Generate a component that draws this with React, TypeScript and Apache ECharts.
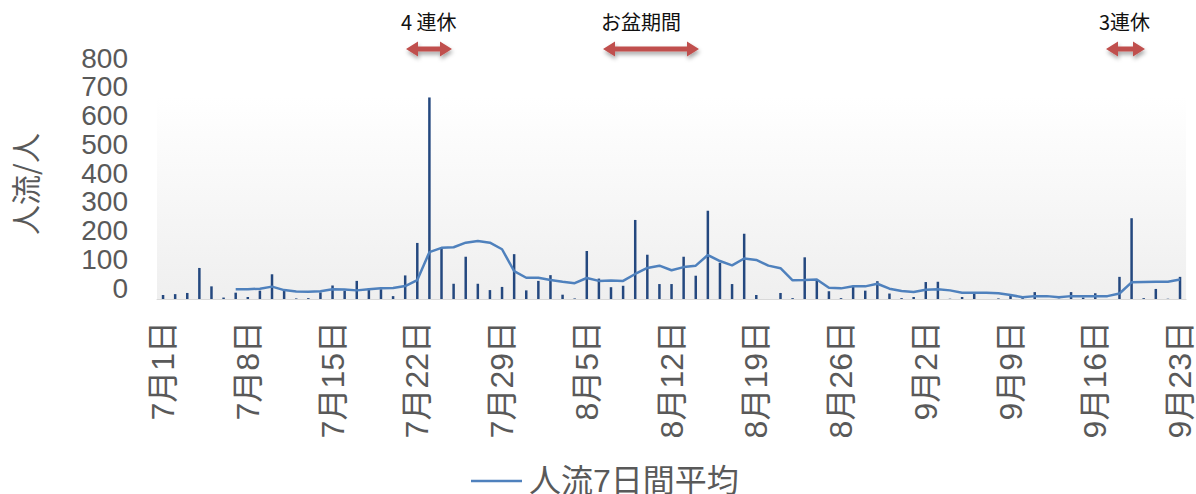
import React, { useEffect, useRef } from "react";
import * as echarts from "echarts";

const categories: string[] = [
  "7月1日","7月2日","7月3日","7月4日","7月5日","7月6日","7月7日","7月8日","7月9日","7月10日",
  "7月11日","7月12日","7月13日","7月14日","7月15日","7月16日","7月17日","7月18日","7月19日","7月20日",
  "7月21日","7月22日","7月23日","7月24日","7月25日","7月26日","7月27日","7月28日","7月29日","7月30日",
  "7月31日","8月1日","8月2日","8月3日","8月4日","8月5日","8月6日","8月7日","8月8日","8月9日",
  "8月10日","8月11日","8月12日","8月13日","8月14日","8月15日","8月16日","8月17日","8月18日","8月19日",
  "8月20日","8月21日","8月22日","8月23日","8月24日","8月25日","8月26日","8月27日","8月28日","8月29日",
  "8月30日","8月31日","9月1日","9月2日","9月3日","9月4日","9月5日","9月6日","9月7日","9月8日",
  "9月9日","9月10日","9月11日","9月12日","9月13日","9月14日","9月15日","9月16日","9月17日","9月18日",
  "9月19日","9月20日","9月21日","9月22日","9月23日",
];

// daily flow (人)
const dailyFlow: number[] = [
  14, 17, 21, 108, 44, 5, 22, 7, 29, 86,
  29, 2, 3, 23, 47, 29, 63, 36, 34, 10,
  82, 195, 701, 180, 53, 147, 53, 31, 42, 156,
  30, 63, 83, 15, 2, 167, 71, 41, 46, 275,
  154, 52, 52, 147, 81, 307, 126, 52, 227, 14,
  0, 21, 3, 145, 66, 27, 3, 45, 29, 62,
  19, 3, 7, 59, 60, 1, 7, 19, 0, 2,
  14, 3, 24, 0, 1, 24, 5, 20, 0, 77,
  281, 3, 35, 1, 77,
];

// 人流7日間平均 (starts on 7月7日)
const avg7: (number | null)[] = [
  null, null, null, null, null, null, 34, 34, 36, 43,
  31, 26, 25, 27, 34, 33, 30, 34, 37, 38,
  45, 66, 163, 178, 180, 196, 202, 196, 173, 97,
  74, 74, 66, 60, 55, 73, 63, 64, 63, 87,
  108, 116, 100, 111, 116, 153, 132, 117, 141, 136,
  116, 107, 65, 66, 68, 39, 37, 44, 44, 53,
  36, 28, 24, 32, 34, 30, 22, 22, 22, 20,
  14, 6, 10, 10, 6, 10, 10, 10, 10, 19,
  58, 59, 60, 60, 68,
];

const yTicks = { min: 0, max: 800, interval: 100 };

const annotations = [
  { text: "4 連休", left: 401, x0: 406, x1: 452 },
  { text: "お盆期間", left: 601, x0: 603, x1: 699 },
  { text: "3連休", left: 1099, x0: 1106, x1: 1145 },
];

function arrowPoints(x0: number, x1: number, cy: number) {
  const h = 12, H = 7.5, t = 2.5;
  return [
    [x0, cy], [x0 + h, cy - H], [x0 + h, cy - t], [x1 - h, cy - t], [x1 - h, cy - H],
    [x1, cy], [x1 - h, cy + H], [x1 - h, cy + t], [x0 + h, cy + t], [x0 + h, cy + H],
  ];
}

const GRAY = "#595959";
const LATIN = "'Liberation Sans', Arial, 'Noto Sans CJK JP', sans-serif";
const CJK = "'Noto Sans CJK JP', 'Liberation Sans', sans-serif";

export default function App() {
  const ref = useRef<HTMLDivElement>(null);
  useEffect(() => {
    if (!ref.current) return;
    const chart = echarts.init(ref.current, null, { renderer: "svg" });
    const graphics: any[] = [];
    annotations.forEach((a) => {
      graphics.push({
        type: "text",
        left: a.left,
        top: 11,
        style: { text: a.text, fill: "#111111", font: `20px ${CJK}` },
      });
      graphics.push({
        type: "polygon",
        shape: { points: arrowPoints(a.x0, a.x1, 49) },
        style: {
          fill: "#C0504D",
          shadowBlur: 4,
          shadowOffsetX: 1,
          shadowOffsetY: 3,
          shadowColor: "rgba(0,0,0,0.35)",
        },
      });
    });
    chart.setOption({
      animation: false,
      backgroundColor: "#FFFFFF",
      grid: {
        left: 157,
        right: 7,
        top: 69,
        bottom: 195,
        show: true,
        borderWidth: 0,
        backgroundColor: new echarts.graphic.LinearGradient(0, 0, 0, 1, [
          { offset: 0, color: "#FFFFFF" },
          { offset: 0.12, color: "#FFFFFF" },
          { offset: 1, color: "#EFEFEF" },
        ]),
      },
      legend: {
        left: 466,
        top: 460,
        icon: "rect",
        itemWidth: 51,
        itemHeight: 2.5,
        itemGap: 10,
        data: ["人流7日間平均"],
        textStyle: { fontSize: 32, color: GRAY, fontFamily: LATIN, padding: [0, 0, 0, 2] },
      },
      xAxis: {
        type: "category",
        data: categories,
        boundaryGap: true,
        axisLine: { show: true, lineStyle: { color: "#D9D9D9", width: 1 } },
        axisTick: { show: false },
        axisLabel: {
          interval: 6,
          rotate: 90,
          margin: 22,
          fontSize: 32,
          color: GRAY,
          fontFamily: LATIN,
        },
        splitLine: { show: false },
      },
      yAxis: {
        type: "value",
        min: yTicks.min,
        max: yTicks.max,
        interval: yTicks.interval,
        name: "人流/人",
        nameLocation: "middle",
        nameGap: 108,
        nameTextStyle: { fontSize: 30, color: GRAY, fontFamily: CJK, padding: [0, 0, 10, 0] },
        axisLine: { show: false },
        axisTick: { show: false },
        splitLine: { show: false },
        axisLabel: {
          margin: 29,
          fontSize: 28,
          color: GRAY,
          fontFamily: LATIN,
          verticalAlign: "bottom",
          lineHeight: 22,
          showMinLabel: true,
          showMaxLabel: true,
          hideOverlap: false,
        },
      },
      series: [
        {
          name: "人流",
          type: "bar",
          data: dailyFlow,
          barWidth: 2.5,
          itemStyle: { color: "#24487F" },
        },
        {
          name: "人流7日間平均",
          type: "line",
          data: avg7,
          symbol: "none",
          showSymbol: false,
          connectNulls: false,
          lineStyle: { color: "#4F81BD", width: 2.5 },
          itemStyle: { color: "#4F81BD" },
        },
      ],
      graphic: graphics,
    });
    return () => chart.dispose();
  }, []);
  return (
    <div
      ref={ref}
      style={{ position: "fixed", left: 0, top: 0, width: 1196, height: 494 }}
    />
  );
}
